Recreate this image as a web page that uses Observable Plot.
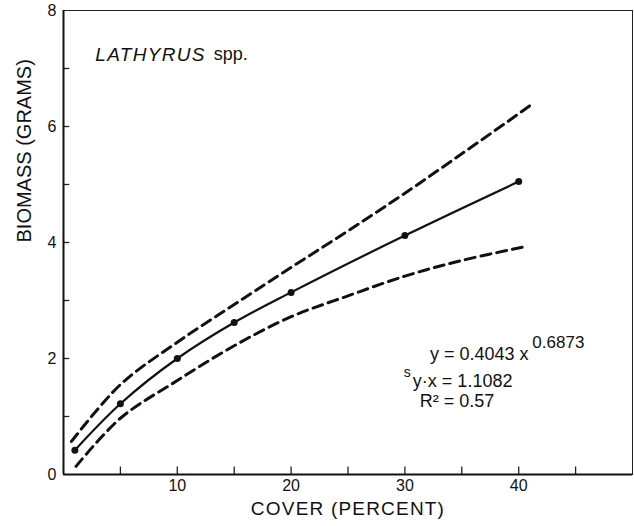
<!DOCTYPE html>
<html><head><meta charset="utf-8">
<script src="https://cdn.jsdelivr.net/npm/d3@7"></script>
<script src="https://cdn.jsdelivr.net/npm/@observablehq/plot@0.6"></script>
<style>
body{margin:0;background:#fff;}
#chart svg{font-family:"Liberation Sans",Arial,sans-serif;color:#111;}
</style></head><body><div id="chart"></div>
<script>
// Observed data points (cover %, biomass g)
const coverPoints = [1, 5, 10, 15, 20, 30, 40];
const biomassPoints = [0.42, 1.22, 2.0, 2.62, 3.14, 4.12, 5.05];
// Upper confidence band (dashed)
const upperX = [0.7, 5, 10, 15, 20, 25, 30, 35, 40, 41.2];
const upperY = [0.57, 1.55, 2.28, 2.93, 3.57, 4.2, 4.85, 5.53, 6.22, 6.39];
// Lower confidence band (dashed)
const lowerX = [1.1, 5, 10, 15, 20, 25, 30, 35, 40.6];
const lowerY = [0.14, 0.97, 1.62, 2.22, 2.72, 3.08, 3.42, 3.69, 3.93];
// Ticks
const xTickLabels = [10, 20, 30, 40];
const xTickMarks = [5, 10, 15, 20, 25, 30, 35, 40, 45];
const yTickLabels = [0, 2, 4, 6, 8];
const yTickMarks = [1, 2, 3, 4, 5, 6, 7];
// Texts
const xTitle = "COVER (PERCENT)";
const yTitle = "BIOMASS (GRAMS)";
const genus = "LATHYRUS";
const genusSuffix = "spp.";

const points = coverPoints.map((x, i) => ({x, y: biomassPoints[i]}));
const upper = upperX.map((x, i) => ({x, y: upperY[i]}));
const lower = lowerX.map((x, i) => ({x, y: lowerY[i]}));

const chart = Plot.plot({
  width: 634,
  height: 526,
  marginLeft: 63,
  marginRight: 2,
  marginTop: 10,
  marginBottom: 52,
  style: {fontFamily: '"Liberation Sans", Arial, sans-serif', background: "#fff"},
  x: {domain: [0, 50], label: null},
  y: {domain: [0, 8], label: null},
  marks: [
    Plot.frame({stroke: "#222", strokeWidth: 1}),
    Plot.ruleX(xTickMarks, {x: d => d, y1: 0, y2: 0.13, stroke: "#222", strokeWidth: 1.3}),
    Plot.ruleY(yTickMarks, {y: d => d, x1: 0, x2: 0.55, stroke: "#222", strokeWidth: 1.3}),
    Plot.ruleX([0], {stroke: "#111", strokeWidth: 2}),
    Plot.ruleY([0], {stroke: "#111", strokeWidth: 2}),
    Plot.axisX({ticks: xTickLabels, tickSize: 0, tickPadding: 5, fontSize: 16, tickFormat: d => d, label: null}),
    Plot.axisY({ticks: yTickLabels, tickSize: 0, tickPadding: 7, fontSize: 16, tickFormat: d => d, label: null}),
    Plot.text([xTitle], {frameAnchor: "bottom", dy: 40, text: d => d, fontSize: 19, fill: "#111"}),
    Plot.text([yTitle], {frameAnchor: "left", dx: -39, rotate: -90, text: d => d, fontSize: 20, fill: "#111"}),
    Plot.line(upper, {x: "x", y: "y", curve: "catmull-rom", stroke: "#111", strokeWidth: 3, strokeDasharray: "10,6"}),
    Plot.line(lower, {x: "x", y: "y", curve: "catmull-rom", stroke: "#111", strokeWidth: 3, strokeDasharray: "10,6"}),
    Plot.line(points, {x: "x", y: "y", curve: "catmull-rom", stroke: "#111", strokeWidth: 2.2}),
    Plot.dot(points, {x: "x", y: "y", r: 3.5, fill: "#111"}),
    Plot.text([genus], {x: 2.8, y: 7.24, text: d => d, textAnchor: "start", fontSize: 19, fontStyle: "italic", fill: "#111"}),
    Plot.text([genusSuffix], {x: 13.2, y: 7.24, text: d => d, textAnchor: "start", fontSize: 18, fill: "#111"}),
    Plot.text(["y = 0.4043 x"], {x: 32.2, y: 2.07, text: d => d, textAnchor: "start", fontSize: 18, fill: "#111"}),
    Plot.text(["0.6873"], {x: 41.2, y: 2.28, text: d => d, textAnchor: "start", fontSize: 17, fill: "#111"}),
    Plot.text(["s"], {x: 29.9, y: 1.76, text: d => d, textAnchor: "start", fontSize: 14, fill: "#111"}),
    Plot.text(["y·x = 1.1082"], {x: 30.7, y: 1.60, text: d => d, textAnchor: "start", fontSize: 18, fill: "#111"}),
    Plot.text(["R² = 0.57"], {x: 31.3, y: 1.26, text: d => d, textAnchor: "start", fontSize: 18, fill: "#111"})
  ]
});
const spacing = {[xTitle]: "1.2px", [genus]: "1.3px"};
d3.select(chart).selectAll("text").each(function() {
  const s = spacing[this.textContent];
  if (s) this.setAttribute("letter-spacing", s);
});
document.getElementById("chart").append(chart);
</script></body></html>
